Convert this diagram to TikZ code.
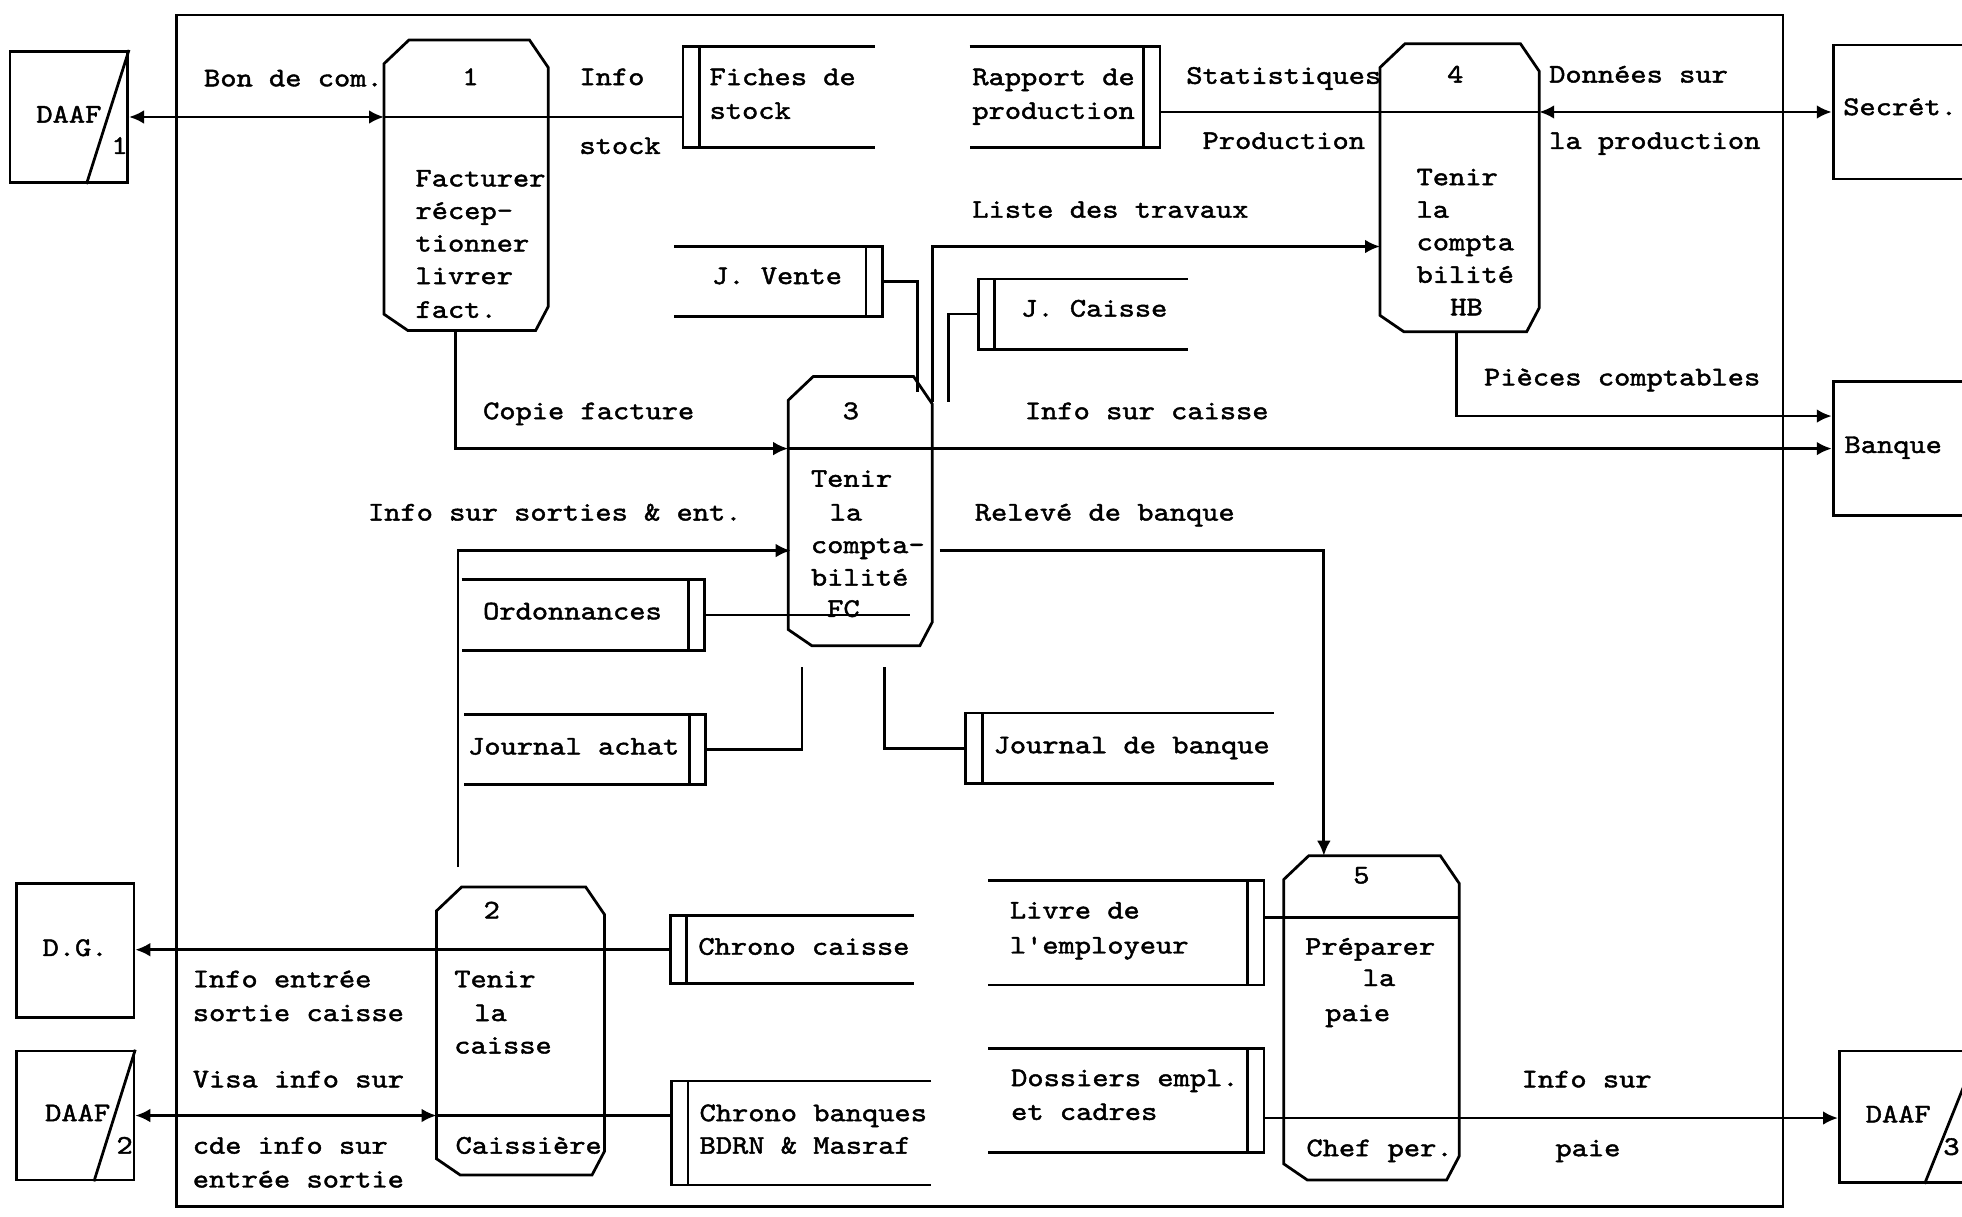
\documentclass[tikz,border=0pt]{standalone}
\usepackage{fontspec}
\setmonofont{lmmono10-regular.otf}[FakeBold=1.6,FakeStretch=1.15]
\usetikzlibrary{arrows.meta}
\tikzset{
  lbl/.style={font=\ttfamily\fontsize{21.5}{26}\selectfont, inner sep=0pt, anchor=base west},
  ctr/.style={font=\ttfamily\fontsize{21.5}{26}\selectfont, inner sep=0pt, anchor=base},
  ghost/.style={rectangle, inner sep=0pt, draw=none},
  ent/.style={rectangle, draw, line width=2.2pt, inner sep=0pt},
  arr/.style={-{Latex[length=12pt,width=11pt]}},
  darr/.style={{Latex[length=12pt,width=11pt]}-{Latex[length=12pt,width=11pt]}},
}
\newcommand{\gnode}[4]{\node[ghost, minimum width=#3pt, minimum height=#4pt] (#1) at (#2) {};}
\newcommand{\dfdtxt}[3]{\node[lbl] (#1) at (#2) {#3};}
\newcommand{\dfdctr}[3]{\node[ctr] (#1) at (#2) {#3};}
\newcommand{\dfdproc}[1]{%
  \draw ([yshift=-19pt]#1.north west) -- ([xshift=20pt]#1.north west) -- ([xshift=-15pt]#1.north east) -- ([yshift=-22pt]#1.north east) -- ([yshift=19pt]#1.south east) -- ([xshift=-10pt]#1.south east) -- ([xshift=19pt]#1.south west) -- ([yshift=13pt]#1.south west) -- cycle;}
\newcommand{\storeL}[1]{%
  \draw (#1.north east) -- (#1.north west) -- (#1.south west) -- (#1.south east);
  \draw ([xshift=13pt]#1.north west) -- ([xshift=13pt]#1.south west);}
\newcommand{\storeR}[1]{%
  \draw (#1.north west) -- (#1.north east) -- (#1.south east) -- (#1.south west);
  \draw ([xshift=-13pt]#1.north east) -- ([xshift=-13pt]#1.south east);}
\begin{document}
\begin{tikzpicture}[x=1pt,y=-1pt,line width=2.2pt]
\useasboundingbox (0,0) rectangle (1568,972);
\clip (0,0) rectangle (1568,972);
\fill[white] (0,0) rectangle (1568,972);

% frame
\node[ent, minimum width=1284pt, minimum height=952pt] (frame) at (783,488) {};

% external entities
\node[ent, minimum width=94pt, minimum height=105pt] (daaf1) at (55,93.5) {};
\draw (daaf1.north east) -- ([xshift=-34pt]daaf1.south east);
\node[ent, minimum width=94pt, minimum height=107pt] (dg) at (60,759.5) {};
\node[ent, minimum width=94pt, minimum height=103pt] (daaf2) at (60,891.5) {};
\draw (daaf2.north east) -- ([xshift=-33pt]daaf2.south east);
\node[ent, minimum width=110pt, minimum height=105pt] (daaf3) at (1525,892.5) {};
\draw (daaf3.north east) -- ([xshift=-43pt]daaf3.south east);
\node[ent, minimum width=115pt, minimum height=107pt] (secret) at (1522.5,89.5) {};
\node[ent, minimum width=115pt, minimum height=107pt] (banque) at (1522.5,358.5) {};

% processes
\gnode{p1}{372.5,148}{129}{230}
\gnode{p2}{416,824}{132}{228}
\gnode{p3}{687.5,408.5}{113}{213}
\gnode{p4}{1166.5,150}{125}{228}
\gnode{p5}{1096,813.5}{138}{257}
\dfdproc{p1}\dfdproc{p2}\dfdproc{p3}\dfdproc{p4}\dfdproc{p5}

% data stores
\gnode{fiches}{622.5,77.5}{151}{79}\storeL{fiches}
\gnode{rapport}{851,77.5}{150}{79}\storeR{rapport}
\gnode{jvente}{622,225}{164}{54}\storeR{jvente}
\gnode{jcaisse}{865.5,251}{165}{54}\storeL{jcaisse}
\gnode{ordo}{466,491.5}{192}{55}\storeR{ordo}
\gnode{jachat}{467.5,599}{191}{54}\storeR{jachat}
\gnode{jbanque}{895,598}{244}{54}\storeL{jbanque}
\gnode{chronoc}{633,759}{192}{52}\storeL{chronoc}
\gnode{chronob}{640.5,905.5}{205}{81}\storeL{chronob}
\gnode{livre}{900,745.5}{218}{81}\storeR{livre}
\gnode{dossiers}{900,879.5}{218}{81}\storeR{dossiers}

% connectors
\draw[darr] (daaf1.east) -- (daaf1.east -| p1.west);
\draw (daaf1.east -| p1.west) -- (daaf1.east -| fiches.west);

\draw (rapport.east |- secret.west) -- (p4.east |- secret.west);
\draw[darr] (p4.east |- secret.west) -- (secret.west);

\coordinate (lt) at (745,321);
\coordinate (ltc) at (745,197);
\draw[arr] (lt) -- (ltc) -- (ltc -| p4.west);

\coordinate (jv) at (733,313);
\draw (jvente.east) -| (jv);
\coordinate (jc) at (758,321);
\draw (jcaisse.west) -| (jc);

\draw[arr] ([xshift=-8.5pt]p1.south) |- (p3.west |- banque.west);
\draw[arr] (p3.west |- banque.west) -- (banque.west);

\draw[arr] ([xshift=-2.5pt]p4.south) |- ([yshift=26pt]banque.west);

\coordinate (is) at (366,693);
\coordinate (isc) at (366,440);
\draw[arr] (is) -- (isc) -- ([xshift=2pt]isc -| p3.west);

\coordinate (oe) at (727,492);
\draw (ordo.east) -- (ordo.east -| oe);

\coordinate (ja) at (641,533);
\draw (jachat.east) -| (ja);
\coordinate (jb) at (707,533);
\draw (jbanque.west) -| (jb);

\coordinate (rb) at (751,440);
\draw[arr] (rb) -| ([xshift=-38pt]p5.north);

\draw[arr] (chronoc.west) -- (chronoc.west -| dg.east);

\draw[darr] (daaf2.east) -- (daaf2.east -| p2.west);
\draw (daaf2.east -| p2.west) -- (daaf2.east -| chronob.west);

\coordinate (lv) at ([yshift=12.5pt]livre.east);
\draw (lv) -- (lv -| p5.east);

\coordinate (dsr) at ([yshift=-14pt]dossiers.east);
\draw[arr] (dsr) -- (dsr -| daaf3.west);

% flow labels
\dfdtxt{t1}{162,69}{Bon de com.}
\dfdtxt{t2}{462,68}{Info}
\dfdtxt{t3}{462,123}{stock}
\dfdtxt{t4}{947,67}{Statistiques}
\dfdtxt{t5}{960,119}{Production}
\dfdtxt{t6}{1237,66}{Données sur}
\dfdtxt{t7}{1237,119}{la production}
\dfdtxt{t8}{776,174}{Liste des travaux}
\dfdtxt{t9}{385,335}{Copie facture}
\dfdtxt{t10}{818,335}{Info sur caisse}
\dfdtxt{t11}{1185,308}{Pièces comptables}
\dfdtxt{t12}{293,416}{Info sur sorties \& ent.}
\dfdtxt{t13}{778,416}{Relevé de banque}
\dfdtxt{t14}{153,789}{Info entrée}
\dfdtxt{t15}{153,816}{sortie caisse}
\dfdtxt{t16}{153,869}{Visa info sur}
\dfdtxt{t17}{153,922}{cde info sur}
\dfdtxt{t18}{153,949}{entrée sortie}
\dfdtxt{t19}{1215,869}{Info sur}
\dfdtxt{t20}{1242,924}{paie}

% process texts
\dfdctr{a1}{376,68}{1}
\dfdtxt{a2}{331,149}{Facturer}
\dfdtxt{a3}{331,175}{récep-}
\dfdtxt{a4}{331,201}{tionner}
\dfdtxt{a5}{331,227}{livrer}
\dfdtxt{a6}{331,254}{fact.}

\dfdctr{b1}{680,335}{3}
\dfdtxt{b2}{647,389}{Tenir}
\dfdtxt{b3}{662,416}{la}
\dfdtxt{b4}{647,442}{compta-}
\dfdtxt{b5}{647,468}{bilité}
\dfdtxt{b6}{660,493}{FC}

\dfdctr{c1}{1163,66}{4}
\dfdtxt{c2}{1131,148}{Tenir}
\dfdtxt{c3}{1131,174}{la}
\dfdtxt{c4}{1131,200}{compta}
\dfdtxt{c5}{1131,226}{bilité}
\dfdctr{c6}{1172,252}{HB}

\dfdctr{d1}{393,734}{2}
\dfdtxt{d2}{362,789}{Tenir}
\dfdtxt{d3}{378,816}{la}
\dfdtxt{d4}{362,842}{caisse}
\dfdtxt{d5}{363,922}{Caissière}

\dfdctr{e1}{1088,706}{5}
\dfdtxt{e2}{1042,763}{Préparer}
\dfdtxt{e3}{1088,788}{la}
\dfdtxt{e4}{1058,816}{paie}
\dfdtxt{e5}{1043,924}{Chef per.}

% store texts
\dfdtxt{s1}{566,68}{Fiches de}
\dfdtxt{s2}{566,95}{stock}
\dfdtxt{s3}{776,68}{Rapport de}
\dfdtxt{s4}{776,95}{production}
\dfdtxt{s5}{568,227}{J. Vente}
\dfdtxt{s6}{815,253}{J. Caisse}
\dfdtxt{s7}{385,495}{Ordonnances}
\dfdtxt{s8}{373,603}{Journal achat}
\dfdtxt{s9}{793,602}{Journal de banque}
\dfdtxt{s10}{557,763}{Chrono caisse}
\dfdtxt{s11}{558,896}{Chrono banques}
\dfdtxt{s12}{558,922}{BDRN \& Masraf}
\dfdtxt{s13}{806,734}{Livre de}
\dfdtxt{s14}{806,762}{l'employeur}
\dfdtxt{s15}{807,868}{Dossiers empl.}
\dfdtxt{s16}{807,895}{et cadres}

% entity texts
\dfdtxt{x1}{28,98}{DAAF}
\dfdtxt{x2}{88,123}{1}
\dfdctr{x3}{60,764}{D.G.}
\dfdtxt{x4}{35,896}{DAAF}
\dfdtxt{x5}{92,922}{2}
\dfdtxt{x6}{1490,897}{DAAF}
\dfdtxt{x7}{1552,923}{3}
\dfdtxt{x8}{1472,92}{Secrét.}
\dfdtxt{x9}{1473,362}{Banque}
\end{tikzpicture}
\end{document}
